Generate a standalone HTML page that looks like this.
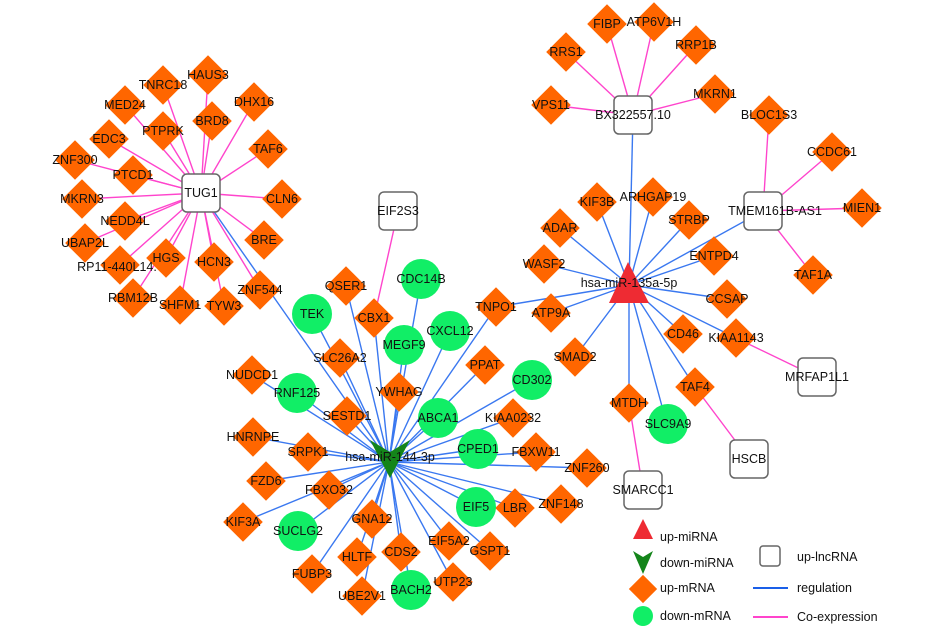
<!DOCTYPE html>
<html><head><meta charset="utf-8"><style>
html,body{margin:0;padding:0;background:#fff;}
svg{display:block;}
text{font-family:"Liberation Sans",sans-serif;font-size:12.5px;fill:#111;text-anchor:middle;dominant-baseline:central;}
.b{stroke:#3a78f0;stroke-width:1.4;}
.p{stroke:#ff44cc;stroke-width:1.4;}
.d{fill:#ff6600;}
.c{fill:#11ee66;}
.x{fill:#fff;stroke:#666;stroke-width:1.5;}
</style></head><body>
<svg width="933" height="635" viewBox="0 0 933 635" xmlns="http://www.w3.org/2000/svg">
<g class="p">
<line x1="201" y1="193" x2="163" y2="85"/><line x1="201" y1="193" x2="208" y2="75"/><line x1="201" y1="193" x2="125" y2="105"/>
<line x1="201" y1="193" x2="163" y2="131"/><line x1="201" y1="193" x2="212" y2="121"/><line x1="201" y1="193" x2="254" y2="102"/>
<line x1="201" y1="193" x2="109" y2="139"/><line x1="201" y1="193" x2="268" y2="149"/><line x1="201" y1="193" x2="75" y2="160"/>
<line x1="201" y1="193" x2="133" y2="175"/><line x1="201" y1="193" x2="82" y2="199"/><line x1="201" y1="193" x2="282" y2="199"/>
<line x1="201" y1="193" x2="125" y2="221"/><line x1="201" y1="193" x2="85" y2="243"/><line x1="201" y1="193" x2="264" y2="240"/>
<line x1="201" y1="193" x2="120" y2="265"/><line x1="201" y1="193" x2="166" y2="258"/><line x1="201" y1="193" x2="214" y2="262"/>
<line x1="201" y1="193" x2="133" y2="298"/><line x1="201" y1="193" x2="180" y2="305"/><line x1="201" y1="193" x2="224" y2="306"/>
<line x1="201" y1="193" x2="260" y2="290"/>
<line x1="398" y1="211" x2="374" y2="318"/>
<line x1="633" y1="115" x2="607" y2="24"/><line x1="633" y1="115" x2="654" y2="22"/><line x1="633" y1="115" x2="566" y2="52"/>
<line x1="633" y1="115" x2="696" y2="45"/><line x1="633" y1="115" x2="551" y2="105"/><line x1="633" y1="115" x2="715" y2="94"/>
<line x1="763" y1="211" x2="769" y2="115"/><line x1="763" y1="211" x2="832" y2="152"/><line x1="763" y1="211" x2="862" y2="208"/><line x1="763" y1="211" x2="813" y2="275"/>
<line x1="736" y1="338" x2="817" y2="377"/><line x1="695" y1="387" x2="749" y2="459"/><line x1="629" y1="403" x2="643" y2="490"/>
</g>
<g class="b">
<line x1="201" y1="193" x2="389" y2="462"/>
<line x1="629" y1="285" x2="633" y2="115"/><line x1="629" y1="285" x2="763" y2="211"/>
<line x1="629" y1="285" x2="597" y2="202"/><line x1="629" y1="285" x2="653" y2="197"/><line x1="629" y1="285" x2="560" y2="228"/>
<line x1="629" y1="285" x2="689" y2="220"/><line x1="629" y1="285" x2="544" y2="264"/><line x1="629" y1="285" x2="714" y2="256"/>
<line x1="629" y1="285" x2="496" y2="307"/><line x1="629" y1="285" x2="551" y2="313"/><line x1="629" y1="285" x2="727" y2="299"/>
<line x1="629" y1="285" x2="683" y2="334"/><line x1="629" y1="285" x2="736" y2="338"/><line x1="629" y1="285" x2="575" y2="357"/>
<line x1="629" y1="285" x2="629" y2="403"/><line x1="629" y1="285" x2="663" y2="410"/><line x1="629" y1="285" x2="695" y2="387"/>
<g>
<line x1="389" y1="462" x2="312" y2="314"/><line x1="389" y1="462" x2="374" y2="318"/><line x1="389" y1="462" x2="404" y2="345"/>
<line x1="389" y1="462" x2="450" y2="331"/><line x1="389" y1="462" x2="421" y2="279"/><line x1="389" y1="462" x2="346" y2="286"/>
<line x1="389" y1="462" x2="340" y2="358"/><line x1="389" y1="462" x2="252" y2="375"/><line x1="389" y1="462" x2="297" y2="393"/>
<line x1="389" y1="462" x2="399" y2="392"/><line x1="389" y1="462" x2="485" y2="365"/><line x1="389" y1="462" x2="532" y2="380"/>
<line x1="389" y1="462" x2="438" y2="418"/><line x1="389" y1="462" x2="347" y2="416"/><line x1="389" y1="462" x2="513" y2="418"/>
<line x1="389" y1="462" x2="253" y2="437"/><line x1="389" y1="462" x2="308" y2="452"/><line x1="389" y1="462" x2="478" y2="449"/>
<line x1="389" y1="462" x2="536" y2="452"/><line x1="389" y1="462" x2="587" y2="468"/><line x1="389" y1="462" x2="266" y2="481"/>
<line x1="389" y1="462" x2="329" y2="490"/><line x1="389" y1="462" x2="243" y2="522"/><line x1="389" y1="462" x2="298" y2="531"/>
<line x1="389" y1="462" x2="372" y2="519"/><line x1="389" y1="462" x2="476" y2="507"/><line x1="389" y1="462" x2="515" y2="508"/>
<line x1="389" y1="462" x2="561" y2="504"/><line x1="389" y1="462" x2="357" y2="557"/><line x1="389" y1="462" x2="401" y2="552"/>
<line x1="389" y1="462" x2="449" y2="541"/><line x1="389" y1="462" x2="490" y2="551"/><line x1="389" y1="462" x2="312" y2="574"/>
<line x1="389" y1="462" x2="362" y2="596"/><line x1="389" y1="462" x2="411" y2="590"/><line x1="389" y1="462" x2="453" y2="582"/>
<line x1="389" y1="462" x2="496" y2="307"/>
</g>
</g>
<!-- diamonds -->
<g class="d">
<rect x="-14" y="-14" width="28" height="28" transform="translate(163,85) rotate(45)"/>
<rect x="-14" y="-14" width="28" height="28" transform="translate(208,75) rotate(45)"/>
<rect x="-14" y="-14" width="28" height="28" transform="translate(125,105) rotate(45)"/>
<rect x="-14" y="-14" width="28" height="28" transform="translate(163,131) rotate(45)"/>
<rect x="-14" y="-14" width="28" height="28" transform="translate(212,121) rotate(45)"/>
<rect x="-14" y="-14" width="28" height="28" transform="translate(254,102) rotate(45)"/>
<rect x="-14" y="-14" width="28" height="28" transform="translate(109,139) rotate(45)"/>
<rect x="-14" y="-14" width="28" height="28" transform="translate(268,149) rotate(45)"/>
<rect x="-14" y="-14" width="28" height="28" transform="translate(75,160) rotate(45)"/>
<rect x="-14" y="-14" width="28" height="28" transform="translate(133,175) rotate(45)"/>
<rect x="-14" y="-14" width="28" height="28" transform="translate(82,199) rotate(45)"/>
<rect x="-14" y="-14" width="28" height="28" transform="translate(282,199) rotate(45)"/>
<rect x="-14" y="-14" width="28" height="28" transform="translate(125,221) rotate(45)"/>
<rect x="-14" y="-14" width="28" height="28" transform="translate(85,243) rotate(45)"/>
<rect x="-14" y="-14" width="28" height="28" transform="translate(264,240) rotate(45)"/>
<rect x="-14" y="-14" width="28" height="28" transform="translate(120,265) rotate(45)"/>
<rect x="-14" y="-14" width="28" height="28" transform="translate(166,258) rotate(45)"/>
<rect x="-14" y="-14" width="28" height="28" transform="translate(214,262) rotate(45)"/>
<rect x="-14" y="-14" width="28" height="28" transform="translate(133,298) rotate(45)"/>
<rect x="-14" y="-14" width="28" height="28" transform="translate(180,305) rotate(45)"/>
<rect x="-14" y="-14" width="28" height="28" transform="translate(224,306) rotate(45)"/>
<rect x="-14" y="-14" width="28" height="28" transform="translate(260,290) rotate(45)"/>
<rect x="-14" y="-14" width="28" height="28" transform="translate(607,24) rotate(45)"/>
<rect x="-14" y="-14" width="28" height="28" transform="translate(654,22) rotate(45)"/>
<rect x="-14" y="-14" width="28" height="28" transform="translate(566,52) rotate(45)"/>
<rect x="-14" y="-14" width="28" height="28" transform="translate(696,45) rotate(45)"/>
<rect x="-14" y="-14" width="28" height="28" transform="translate(551,105) rotate(45)"/>
<rect x="-14" y="-14" width="28" height="28" transform="translate(715,94) rotate(45)"/>
<rect x="-14" y="-14" width="28" height="28" transform="translate(769,115) rotate(45)"/>
<rect x="-14" y="-14" width="28" height="28" transform="translate(832,152) rotate(45)"/>
<rect x="-14" y="-14" width="28" height="28" transform="translate(862,208) rotate(45)"/>
<rect x="-14" y="-14" width="28" height="28" transform="translate(813,275) rotate(45)"/>
<rect x="-14" y="-14" width="28" height="28" transform="translate(597,202) rotate(45)"/>
<rect x="-14" y="-14" width="28" height="28" transform="translate(653,197) rotate(45)"/>
<rect x="-14" y="-14" width="28" height="28" transform="translate(560,228) rotate(45)"/>
<rect x="-14" y="-14" width="28" height="28" transform="translate(689,220) rotate(45)"/>
<rect x="-14" y="-14" width="28" height="28" transform="translate(544,264) rotate(45)"/>
<rect x="-14" y="-14" width="28" height="28" transform="translate(714,256) rotate(45)"/>
<rect x="-14" y="-14" width="28" height="28" transform="translate(496,307) rotate(45)"/>
<rect x="-14" y="-14" width="28" height="28" transform="translate(551,313) rotate(45)"/>
<rect x="-14" y="-14" width="28" height="28" transform="translate(727,299) rotate(45)"/>
<rect x="-14" y="-14" width="28" height="28" transform="translate(683,334) rotate(45)"/>
<rect x="-14" y="-14" width="28" height="28" transform="translate(736,338) rotate(45)"/>
<rect x="-14" y="-14" width="28" height="28" transform="translate(575,357) rotate(45)"/>
<rect x="-14" y="-14" width="28" height="28" transform="translate(629,403) rotate(45)"/>
<rect x="-14" y="-14" width="28" height="28" transform="translate(695,387) rotate(45)"/>
<rect x="-14" y="-14" width="28" height="28" transform="translate(374,318) rotate(45)"/>
<rect x="-14" y="-14" width="28" height="28" transform="translate(346,286) rotate(45)"/>
<rect x="-14" y="-14" width="28" height="28" transform="translate(340,358) rotate(45)"/>
<rect x="-14" y="-14" width="28" height="28" transform="translate(252,375) rotate(45)"/>
<rect x="-14" y="-14" width="28" height="28" transform="translate(399,392) rotate(45)"/>
<rect x="-14" y="-14" width="28" height="28" transform="translate(485,365) rotate(45)"/>
<rect x="-14" y="-14" width="28" height="28" transform="translate(347,416) rotate(45)"/>
<rect x="-14" y="-14" width="28" height="28" transform="translate(513,418) rotate(45)"/>
<rect x="-14" y="-14" width="28" height="28" transform="translate(253,437) rotate(45)"/>
<rect x="-14" y="-14" width="28" height="28" transform="translate(308,452) rotate(45)"/>
<rect x="-14" y="-14" width="28" height="28" transform="translate(536,452) rotate(45)"/>
<rect x="-14" y="-14" width="28" height="28" transform="translate(587,468) rotate(45)"/>
<rect x="-14" y="-14" width="28" height="28" transform="translate(266,481) rotate(45)"/>
<rect x="-14" y="-14" width="28" height="28" transform="translate(329,490) rotate(45)"/>
<rect x="-14" y="-14" width="28" height="28" transform="translate(243,522) rotate(45)"/>
<rect x="-14" y="-14" width="28" height="28" transform="translate(372,519) rotate(45)"/>
<rect x="-14" y="-14" width="28" height="28" transform="translate(515,508) rotate(45)"/>
<rect x="-14" y="-14" width="28" height="28" transform="translate(561,504) rotate(45)"/>
<rect x="-14" y="-14" width="28" height="28" transform="translate(357,557) rotate(45)"/>
<rect x="-14" y="-14" width="28" height="28" transform="translate(401,552) rotate(45)"/>
<rect x="-14" y="-14" width="28" height="28" transform="translate(449,541) rotate(45)"/>
<rect x="-14" y="-14" width="28" height="28" transform="translate(490,551) rotate(45)"/>
<rect x="-14" y="-14" width="28" height="28" transform="translate(312,574) rotate(45)"/>
<rect x="-14" y="-14" width="28" height="28" transform="translate(362,596) rotate(45)"/>
<rect x="-14" y="-14" width="28" height="28" transform="translate(453,582) rotate(45)"/>
<rect x="-10" y="-10" width="20" height="20" transform="translate(643,589) rotate(45)"/>
</g>
<g class="c">
<circle cx="312" cy="314" r="20"/><circle cx="404" cy="345" r="20"/><circle cx="450" cy="331" r="20"/>
<circle cx="421" cy="279" r="20"/><circle cx="297" cy="393" r="20"/><circle cx="532" cy="380" r="20"/>
<circle cx="438" cy="418" r="20"/><circle cx="478" cy="449" r="20"/><circle cx="298" cy="531" r="20"/>
<circle cx="476" cy="507" r="20"/><circle cx="411" cy="590" r="20"/><circle cx="668" cy="424" r="20"/>
<circle cx="643" cy="616" r="10"/>
</g>
<g class="x">
<rect x="182" y="174" width="38" height="38" rx="5"/>
<rect x="379" y="192" width="38" height="38" rx="5"/>
<rect x="614" y="96" width="38" height="38" rx="5"/>
<rect x="744" y="192" width="38" height="38" rx="5"/>
<rect x="798" y="358" width="38" height="38" rx="5"/>
<rect x="730" y="440" width="38" height="38" rx="5"/>
<rect x="624" y="471" width="38" height="38" rx="5"/>
<rect x="760" y="546" width="20" height="20" rx="3"/>
</g>
<polygon points="628,262 649,303 609,303" fill="#ee2b33"/>
<polygon points="370,440 390,452 410,440 390,478" fill="#14851a"/>
<polygon points="643,519 653,539 633,539" fill="#ee2b33"/>
<polygon points="633,551 643,557 653,551 643,574" fill="#14851a"/>
<line x1="753" y1="588" x2="788" y2="588" stroke="#1a5fe8" stroke-width="2"/>
<line x1="753" y1="617" x2="788" y2="617" stroke="#ff44cc" stroke-width="2"/>
<g>
<text x="201" y="193">TUG1</text><text x="398" y="211">EIF2S3</text><text x="633" y="115">BX322557.10</text>
<text x="775" y="211">TMEM161B-AS1</text><text x="817" y="377">MRFAP1L1</text><text x="749" y="459">HSCB</text><text x="643" y="490">SMARCC1</text>
<text x="163" y="85">TNRC18</text><text x="208" y="75">HAUS3</text><text x="125" y="105">MED24</text><text x="163" y="131">PTPRK</text>
<text x="212" y="121">BRD8</text><text x="254" y="102">DHX16</text><text x="109" y="139">EDC3</text><text x="268" y="149">TAF6</text>
<text x="75" y="160">ZNF300</text><text x="133" y="175">PTCD1</text><text x="82" y="199">MKRN3</text><text x="282" y="199">CLN6</text>
<text x="125" y="221">NEDD4L</text><text x="85" y="243">UBAP2L</text><text x="264" y="240">BRE</text><text x="117" y="267">RP11-440L14.</text>
<text x="166" y="258">HGS</text><text x="214" y="262">HCN3</text><text x="133" y="298">RBM12B</text><text x="180" y="305">SHFM1</text>
<text x="224" y="306">TYW3</text><text x="260" y="290">ZNF544</text>
<text x="607" y="24">FIBP</text><text x="654" y="22">ATP6V1H</text><text x="566" y="52">RRS1</text><text x="696" y="45">RRP1B</text>
<text x="551" y="105">VPS11</text><text x="715" y="94">MKRN1</text><text x="769" y="115">BLOC1S3</text><text x="832" y="152">CCDC61</text>
<text x="862" y="208">MIEN1</text><text x="813" y="275">TAF1A</text>
<text x="597" y="202">KIF3B</text><text x="653" y="197">ARHGAP19</text><text x="560" y="228">ADAR</text><text x="689" y="220">STRBP</text>
<text x="544" y="264">WASF2</text><text x="714" y="256">ENTPD4</text><text x="496" y="307">TNPO1</text><text x="551" y="313">ATP9A</text>
<text x="727" y="299">CCSAP</text><text x="683" y="334">CD46</text><text x="736" y="338">KIAA1143</text><text x="575" y="357">SMAD2</text>
<text x="629" y="403">MTDH</text><text x="668" y="424">SLC9A9</text><text x="695" y="387">TAF4</text>
<text x="629" y="283">hsa-miR-135a-5p</text><text x="390" y="457">hsa-miR-144-3p</text>
<text x="312" y="314">TEK</text><text x="374" y="318">CBX1</text><text x="404" y="345">MEGF9</text><text x="450" y="331">CXCL12</text>
<text x="421" y="279">CDC14B</text><text x="346" y="286">QSER1</text><text x="340" y="358">SLC26A2</text><text x="252" y="375">NUDCD1</text>
<text x="297" y="393">RNF125</text><text x="399" y="392">YWHAG</text><text x="485" y="365">PPAT</text><text x="532" y="380">CD302</text>
<text x="438" y="418">ABCA1</text><text x="347" y="416">SESTD1</text><text x="513" y="418">KIAA0232</text><text x="253" y="437">HNRNPE</text>
<text x="308" y="452">SRPK1</text><text x="478" y="449">CPED1</text><text x="536" y="452">FBXW11</text><text x="587" y="468">ZNF260</text>
<text x="266" y="481">FZD6</text><text x="329" y="490">FBXO32</text><text x="243" y="522">KIF3A</text><text x="298" y="531">SUCLG2</text>
<text x="372" y="519">GNA12</text><text x="476" y="507">EIF5</text><text x="515" y="508">LBR</text><text x="561" y="504">ZNF148</text>
<text x="357" y="557">HLTF</text><text x="401" y="552">CDS2</text><text x="449" y="541">EIF5A2</text><text x="490" y="551">GSPT1</text>
<text x="312" y="574">FUBP3</text><text x="362" y="596">UBE2V1</text><text x="411" y="590">BACH2</text><text x="453" y="582">UTP23</text>
</g>
<g style="text-anchor:start">
<text x="660" y="537" style="text-anchor:start">up-miRNA</text>
<text x="660" y="563" style="text-anchor:start">down-miRNA</text>
<text x="660" y="588" style="text-anchor:start">up-mRNA</text>
<text x="660" y="616" style="text-anchor:start">down-mRNA</text>
<text x="797" y="557" style="text-anchor:start">up-lncRNA</text>
<text x="797" y="588" style="text-anchor:start">regulation</text>
<text x="797" y="617" style="text-anchor:start">Co-expression</text>
</g>
</svg>
</body></html>
